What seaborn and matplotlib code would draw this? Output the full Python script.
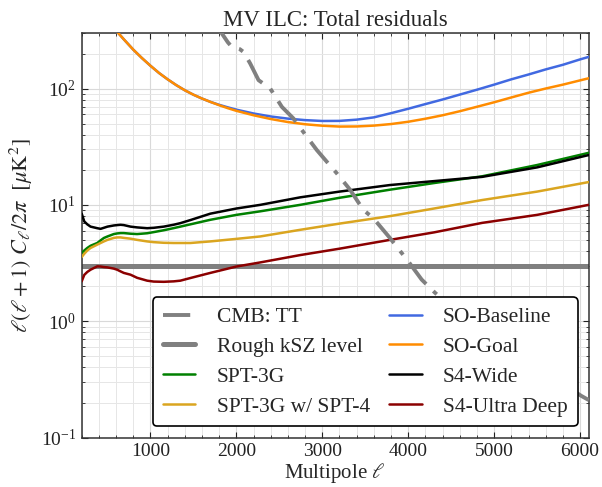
import numpy as np
import pandas as pd
import matplotlib
matplotlib.use("Agg")
import matplotlib.pyplot as plt
from matplotlib.ticker import MultipleLocator, LogLocator, NullFormatter
import seaborn as sns

# ---- residual spectra, D_ell = ell(ell+1) C_ell / 2pi  [muK^2] ----
cmb_ell = [1750, 1833, 1900, 1949, 1987, 2040, 2084, 2161, 2258, 2394, 2530, 2664,
           2820, 2936, 3052, 3168, 3323, 3477, 3593, 3787, 4000, 4156, 4310,
           4500, 5000, 5500, 6014, 6100]
cmb_tt = [370, 296, 250, 227, 224, 218, 206, 164, 118, 100, 69.5, 55.3,
          38.5, 29.6, 23.5, 18.7, 13.5, 9.06, 7.69, 5.19, 3.27, 2.28, 1.76,
          1.32, 0.71, 0.40, 0.228, 0.21]

ksz_level = 3.0

so_ell = [600, 632, 700, 800, 900, 1000, 1100, 1200, 1300, 1400, 1500, 1600,
          1700, 1800, 1900, 2000, 2200, 2400, 2600, 2800, 3000, 3200, 3400,
          3600, 3800, 4000, 4200, 4400, 4600, 4800, 5000, 5200, 5400, 5600,
          5800, 6000, 6100]
so_baseline = [316, 296, 260, 216, 183, 157, 136, 120, 107, 96.6, 88.5, 82,
               76.7, 72.4, 68.9, 65.8, 61.0, 57.5, 55.1, 53.5, 52.6, 52.7, 54.0,
               56.5, 61.4, 67.0, 73.5, 80.5, 88.7, 97.7, 108, 120, 132, 146,
               160, 178, 187]
so_goal = [316, 296, 260, 216, 183, 157, 136, 120, 107, 96.6, 88.5, 82,
           76.6, 71.9, 67.8, 64.3, 58.9, 54.7, 51.5, 49.3, 47.9, 47.1, 47.2,
           48.0, 49.5, 51.8, 55.0, 58.9, 63.8, 69.7, 76.2, 83.8, 92.0, 100,
           108, 117.5, 122.5]

low_ell = [200, 230, 265, 303, 381, 420, 458, 500, 574, 613, 652, 690, 768,
           845, 962, 1038, 1155, 1271, 1348, 1465, 1697, 2000, 2278, 2742,
           3200, 3787, 4300, 4860, 5500, 6100]
spt3g = [3.86, 4.05, 4.26, 4.45, 4.7, 4.95, 5.19, 5.35, 5.61, 5.68, 5.72, 5.72, 5.65,
         5.61, 5.7, 5.83, 6.05, 6.31, 6.5, 6.8, 7.44, 8.2, 8.8, 10.0,
         11.5, 13.5, 15.4, 17.6, 22.0, 28.0]
spt3g_spt4 = [3.56, 3.8, 4.05, 4.26, 4.55, 4.7, 4.85, 5.0, 5.2, 5.25, 5.25, 5.2, 5.12,
              5.0, 4.85, 4.78, 4.72, 4.7, 4.7, 4.7, 4.85, 5.1, 5.35, 6.1,
              6.9, 8.0, 9.3, 11.0, 13.0, 15.7]
s4_wide = [8.4, 7.2, 6.8, 6.5, 6.3, 6.22, 6.35, 6.5, 6.65, 6.7, 6.74, 6.7, 6.5,
           6.4, 6.3, 6.35, 6.5, 6.75, 6.96, 7.4, 8.4, 9.3, 10.0, 11.6,
           13.0, 14.8, 16.0, 17.4, 21.0, 26.8]
s4_ultra_deep = [2.2, 2.5, 2.65, 2.77, 2.96, 2.95, 2.92, 2.9, 2.83, 2.77, 2.68, 2.6, 2.51,
                 2.36, 2.23, 2.19, 2.18, 2.2, 2.23, 2.35, 2.6, 2.95, 3.2, 3.7,
                 4.2, 5.0, 5.8, 7.0, 8.2, 10.0]

x_limits = (200, 6100)
y_limits = (0.1, 300)

# ---- style ----
sns.set_style("ticks")
plt.rcParams.update({
    "font.family": ["Liberation Serif", "DejaVu Serif"],
    "mathtext.fontset": "stix",
    "xtick.direction": "in",
    "ytick.direction": "in",
    "xtick.top": True,
    "ytick.right": True,
    "xtick.major.size": 4.5,
    "ytick.major.size": 4.5,
    "xtick.minor.size": 2.5,
    "ytick.minor.size": 2.5,
    "xtick.color": "#222222",
    "ytick.color": "#222222",
    "axes.edgecolor": "#333333",
    "axes.linewidth": 1.1,
})

fig = plt.figure(figsize=(6.02, 4.87), dpi=100)
ax = fig.add_axes([0.1357, 0.1016, 0.8422, 0.8306])

lw = 1.8
sns.lineplot(x=cmb_ell, y=cmb_tt, ax=ax, color="gray", lw=2.8,
             label="CMB: TT", estimator=None, sort=False, zorder=4)
ax.lines[-1].set_dashes((7, 2.6, 1.2, 2.6))
sns.lineplot(x=list(x_limits), y=[ksz_level, ksz_level], ax=ax, color="gray",
             lw=3.6, label="Rough kSZ level", estimator=None, zorder=2)
sns.lineplot(x=low_ell, y=spt3g, ax=ax, color="green", lw=lw,
             label="SPT-3G", estimator=None, zorder=3)
sns.lineplot(x=low_ell, y=spt3g_spt4, ax=ax, color="goldenrod", lw=lw,
             label="SPT-3G w/ SPT-4", estimator=None, zorder=3)
sns.lineplot(x=so_ell, y=so_baseline, ax=ax, color="royalblue", lw=lw,
             label="SO-Baseline", estimator=None, zorder=3)
sns.lineplot(x=so_ell, y=so_goal, ax=ax, color="darkorange", lw=lw,
             label="SO-Goal", estimator=None, zorder=3)
sns.lineplot(x=low_ell, y=s4_wide, ax=ax, color="black", lw=lw,
             label="S4-Wide", estimator=None, zorder=3)
sns.lineplot(x=low_ell, y=s4_ultra_deep, ax=ax, color="darkred", lw=lw,
             label="S4-Ultra Deep", estimator=None, zorder=3)

ax.set_yscale("log")
ax.set_xlim(*x_limits)
ax.set_ylim(*y_limits)

ax.xaxis.set_major_locator(MultipleLocator(1000))
ax.xaxis.set_minor_locator(MultipleLocator(200))
ax.yaxis.set_major_locator(LogLocator(base=10, numticks=10))
ax.yaxis.set_minor_locator(LogLocator(base=10, subs=np.arange(2, 10), numticks=20))
ax.yaxis.set_minor_formatter(NullFormatter())

ax.grid(which="major", color="#d9d9d9", lw=0.8)
ax.grid(which="minor", color="#e6e6e6", lw=0.7)
ax.set_axisbelow(True)

ax.tick_params(labelsize=14, pad=4)
ax.set_xlabel(r"Multipole $\ell$", fontsize=15, labelpad=1)
ax.set_ylabel(r"$\ell(\ell+1)\ C_\ell/2\pi\ \ [\mu{\rm K}^2]$", fontsize=16, labelpad=4)
ax.set_title("MV ILC: Total residuals", fontsize=16.5, pad=5)

leg = ax.legend(ncol=2, loc="lower right", bbox_to_anchor=(0.978, 0.028),
                borderaxespad=0, fontsize=15.5, frameon=True, fancybox=True,
                framealpha=1, edgecolor="black", handlelength=1.5,
                columnspacing=0.9, labelspacing=0.45, handletextpad=1.0,
                borderpad=0.45)
leg.get_frame().set_linewidth(1.2)
leg.set_zorder(10)

fig.savefig("out.png", dpi=100)
